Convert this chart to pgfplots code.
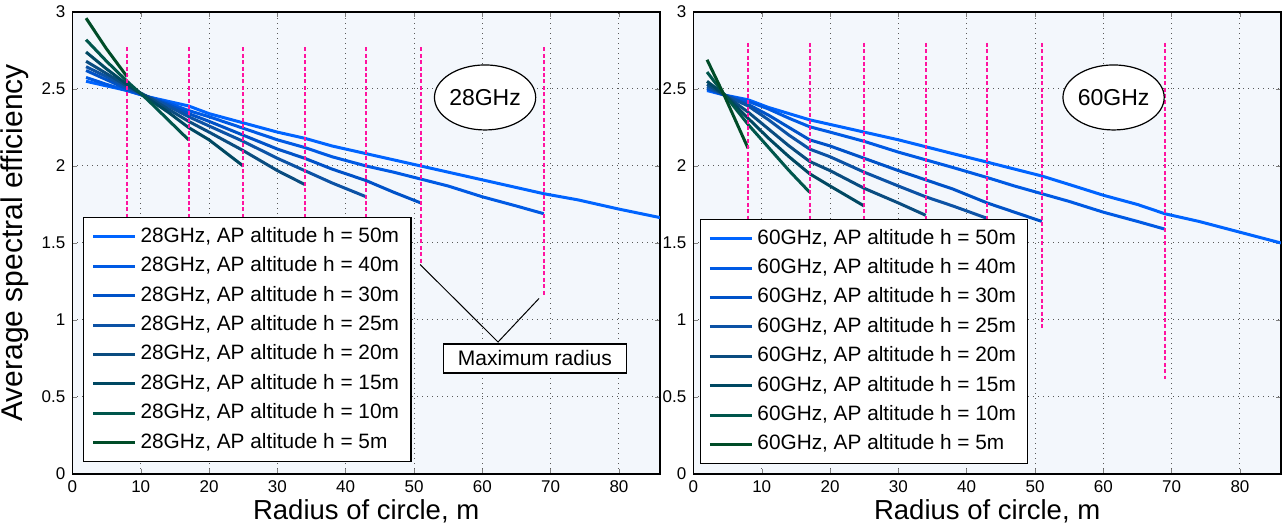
\documentclass[border=0pt]{standalone}
\usepackage{fontspec}
\setmainfont{Liberation Sans}
\usepackage{pgfplots}
\pgfplotsset{compat=1.18}
\usetikzlibrary{shapes.geometric}
\definecolor{c50}{RGB}{0,100,255}
\definecolor{c40}{RGB}{0,90,228}
\definecolor{c30}{RGB}{0,82,200}
\definecolor{c25}{RGB}{12,82,165}
\definecolor{c20}{RGB}{10,76,128}
\definecolor{c15}{RGB}{0,72,98}
\definecolor{c10}{RGB}{0,86,76}
\definecolor{c5}{RGB}{0,76,40}
\definecolor{bgc}{RGB}{243,247,252}
\definecolor{mag}{RGB}{255,20,160}
\pgfplotsset{base/.style={
  scale only axis, width=293.8pt, height=231pt,
  xmin=0, xmax=86, ymin=0, ymax=3,
  xtick={0,10,20,30,40,50,60,70,80}, ytick={0,0.5,1,1.5,2,2.5,3},
  grid=major, grid style={dash pattern=on 0.5pt off 2pt, black!65, line width=0.5pt},
  tick align=inside, major tick length=2.5pt,
  axis line style={line width=0.7pt},
  axis background/.style={fill=bgc},
  tick label style={font=\fontsize{8.5}{10}\selectfont},
  /pgf/number format/assume math mode=true,
  xlabel={Radius of circle, m},
  xlabel style={font=\fontsize{13.75}{15}\selectfont, at={(axis description cs:0.5,-0.080)}, anchor=center},
  every axis plot/.append style={line width=1.5pt},
  legend cell align=left,
  legend image code/.code={\draw[##1] (0pt,0pt) -- (21pt,0pt);},
  legend style={font=\fontsize{10.4}{12}\selectfont, draw=black, fill=white, line width=0.6pt,
    anchor=north west, row sep=1.6pt, inner xsep=4pt, inner ysep=3pt,
    nodes={inner ysep=1.5pt, inner xsep=2pt, text height=7.8pt, text depth=2.3pt}},
}}
\begin{document}
\begin{tikzpicture}
\path[use as bounding box] (-36.2pt,-27pt) rectangle (607.3pt,237pt);
% ---------------- 28 GHz ----------------
\begin{axis}[base, at={(0pt,0pt)}, anchor=south west,
  ylabel={Average spectral efficiency},
  ylabel style={font=\fontsize{15}{17}\selectfont, at={(axis description cs:-0.0977,0.5)}, anchor=center},
  legend style={at={(axis description cs:0.018,0.556)}}]
\addplot[c50] coordinates {(2,2.55) (5,2.52) (8,2.49) (11,2.45) (14,2.42) (17,2.39) (20,2.34) (25,2.28) (30,2.22) (34,2.18) (38,2.13) (43,2.08) (47,2.04) (51,2.00) (55,1.96) (60,1.91) (65,1.86) (69,1.82) (74,1.78) (80,1.72) (86,1.665)};
\addlegendentry{28GHz, AP altitude h = 50m}
\addplot[c40] coordinates {(2,2.575) (5,2.53) (8,2.49) (11,2.45) (14,2.41) (17,2.36) (20,2.32) (25,2.245) (30,2.17) (34,2.12) (38,2.06) (43,2.00) (47,1.96) (51,1.915) (55,1.87) (60,1.80) (65,1.74) (69,1.69)};
\addlegendentry{28GHz, AP altitude h = 40m}
\addplot[c30] coordinates {(2,2.62) (5,2.56) (8,2.50) (11,2.45) (14,2.40) (17,2.34) (20,2.29) (25,2.20) (30,2.11) (34,2.05) (38,1.98) (43,1.905) (47,1.83) (51,1.76)};
\addlegendentry{28GHz, AP altitude h = 30m}
\addplot[c25] coordinates {(2,2.645) (5,2.58) (8,2.51) (11,2.45) (14,2.39) (17,2.32) (20,2.26) (25,2.16) (30,2.05) (34,1.97) (38,1.89) (43,1.80)};
\addlegendentry{28GHz, AP altitude h = 25m}
\addplot[c20] coordinates {(2,2.68) (5,2.60) (8,2.52) (11,2.45) (14,2.37) (17,2.29) (20,2.22) (25,2.10) (30,1.97) (34,1.88)};
\addlegendentry{28GHz, AP altitude h = 20m}
\addplot[c15] coordinates {(2,2.74) (5,2.63) (8,2.53) (11,2.44) (14,2.35) (17,2.25) (20,2.17) (25,2.00)};
\addlegendentry{28GHz, AP altitude h = 15m}
\addplot[c10] coordinates {(2,2.82) (5,2.68) (8,2.55) (11,2.43) (14,2.30) (17,2.17)};
\addlegendentry{28GHz, AP altitude h = 10m}
\addplot[c5] coordinates {(2,2.96) (5,2.76) (8,2.58)};
\addlegendentry{28GHz, AP altitude h = 5m}
% maximum radius markers
\addplot[mag, line width=1pt, dash pattern=on 2pt off 1.2pt, forget plot] coordinates {(8,2.77) (8,1.0)};
\addplot[mag, line width=1pt, dash pattern=on 2pt off 1.2pt, forget plot] coordinates {(17,2.77) (17,1.0)};
\addplot[mag, line width=1pt, dash pattern=on 2pt off 1.2pt, forget plot] coordinates {(25,2.77) (25,1.0)};
\addplot[mag, line width=1pt, dash pattern=on 2pt off 1.2pt, forget plot] coordinates {(34,2.77) (34,1.0)};
\addplot[mag, line width=1pt, dash pattern=on 2pt off 1.2pt, forget plot] coordinates {(43,2.77) (43,1.0)};
\addplot[mag, line width=1pt, dash pattern=on 2pt off 1.2pt, forget plot] coordinates {(51,2.77) (51,1.36)};
\addplot[mag, line width=1pt, dash pattern=on 2pt off 1.2pt, forget plot] coordinates {(69,2.77) (69,1.15)};
\draw[black, line width=0.5pt] (axis cs:50.9,1.36) -- (axis cs:62.3,0.857) -- (axis cs:68.3,1.14);
\node[draw=black, fill=white, line width=0.6pt, minimum width=91.5pt, minimum height=14.5pt, inner sep=0pt, font=\fontsize{10.5}{12}\selectfont] at (axis cs:67.7,0.75) {Maximum radius};
\node[draw=black, fill=white, ellipse, line width=0.6pt, minimum width=45pt, minimum height=32.5pt, inner sep=0pt, font=\fontsize{11.5}{13}\selectfont] at (axis cs:60.4,2.445) {28GHz};
\end{axis}
% ---------------- 60 GHz ----------------
\begin{axis}[base, at={(310.5pt,0pt)}, anchor=south west,
  legend style={at={(axis description cs:0.011,0.552)}}]
\addplot[c50] coordinates {(2,2.49) (4.6,2.46) (8,2.43) (11,2.38) (14,2.34) (17,2.30) (20,2.27) (25,2.22) (30,2.17) (34,2.125) (38,2.08) (43,2.025) (47,1.98) (51,1.935) (55,1.88) (60,1.81) (65,1.75) (69,1.69) (74,1.64) (80,1.57) (86,1.50)};
\addlegendentry{60GHz, AP altitude h = 50m}
\addplot[c40] coordinates {(2,2.50) (4.6,2.46) (8,2.42) (11,2.37) (14,2.31) (17,2.255) (20,2.22) (25,2.16) (30,2.09) (34,2.04) (38,1.99) (43,1.925) (47,1.87) (51,1.82) (55,1.77) (60,1.70) (65,1.64) (69,1.59)};
\addlegendentry{60GHz, AP altitude h = 40m}
\addplot[c30] coordinates {(2,2.505) (4.6,2.46) (8,2.40) (11,2.33) (14,2.25) (17,2.17) (20,2.13) (25,2.05) (30,1.97) (34,1.91) (38,1.85) (43,1.76) (47,1.70) (51,1.64)};
\addlegendentry{60GHz, AP altitude h = 30m}
\addplot[c25] coordinates {(2,2.515) (4.6,2.46) (8,2.39) (11,2.30) (14,2.20) (17,2.11) (20,2.06) (25,1.96) (30,1.87) (34,1.80) (38,1.74) (43,1.66)};
\addlegendentry{60GHz, AP altitude h = 25m}
\addplot[c20] coordinates {(2,2.53) (4.6,2.46) (8,2.35) (11,2.24) (14,2.13) (17,2.03) (20,1.97) (25,1.855) (30,1.76) (34,1.68)};
\addlegendentry{60GHz, AP altitude h = 20m}
\addplot[c15] coordinates {(2,2.55) (4.6,2.46) (8,2.31) (11,2.18) (14,2.06) (17,1.95) (20,1.87) (25,1.74)};
\addlegendentry{60GHz, AP altitude h = 15m}
\addplot[c10] coordinates {(2,2.61) (4.6,2.46) (8,2.27) (11,2.12) (14,1.97) (17,1.83)};
\addlegendentry{60GHz, AP altitude h = 10m}
\addplot[c5] coordinates {(2,2.69) (4.6,2.45) (8,2.115)};
\addlegendentry{60GHz, AP altitude h = 5m}
\addplot[mag, line width=1pt, dash pattern=on 2pt off 1.2pt, forget plot] coordinates {(8,2.8) (8,1.0)};
\addplot[mag, line width=1pt, dash pattern=on 2pt off 1.2pt, forget plot] coordinates {(17,2.8) (17,1.0)};
\addplot[mag, line width=1pt, dash pattern=on 2pt off 1.2pt, forget plot] coordinates {(25,2.8) (25,1.0)};
\addplot[mag, line width=1pt, dash pattern=on 2pt off 1.2pt, forget plot] coordinates {(34,2.8) (34,1.0)};
\addplot[mag, line width=1pt, dash pattern=on 2pt off 1.2pt, forget plot] coordinates {(43,2.8) (43,1.0)};
\addplot[mag, line width=1pt, dash pattern=on 2pt off 1.2pt, forget plot] coordinates {(51,2.8) (51,0.95)};
\addplot[mag, line width=1pt, dash pattern=on 2pt off 1.2pt, forget plot] coordinates {(69,2.8) (69,0.62)};
\node[draw=black, fill=white, ellipse, line width=0.6pt, minimum width=45pt, minimum height=32.5pt, inner sep=0pt, font=\fontsize{11.5}{13}\selectfont] at (axis cs:61.5,2.445) {60GHz};
\end{axis}
\end{tikzpicture}
\end{document}
